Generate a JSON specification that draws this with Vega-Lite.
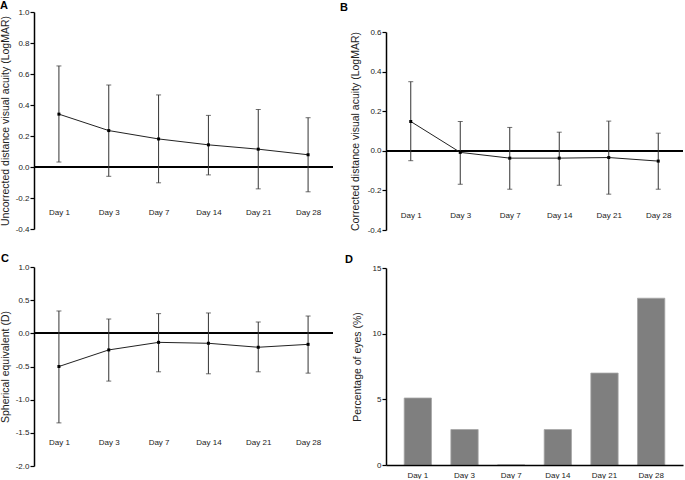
{
  "$schema": "https://vega.github.io/schema/vega-lite/v6.json",
  "padding": {"left": 0, "top": 0, "right": 0, "bottom": 0},
  "config": {
    "font": "Liberation Sans",
    "view": {"stroke": null},
    "axis": {
      "grid": false,
      "labelOverlap": false,
      "domainColor": "#000",
      "domainWidth": 1.5,
      "tickColor": "#000",
      "tickWidth": 1.2,
      "tickSize": 4,
      "labelFont": "Liberation Sans",
      "labelFontSize": 8,
      "labelColor": "#222",
      "labelPadding": 1,
      "titleFont": "Liberation Sans",
      "titleFontSize": 10.5,
      "titleFontWeight": "normal",
      "titleColor": "#222"
    },
    "axisX": {
      "domain": false,
      "ticks": false,
      "tickSize": 0,
      "labelAngle": 0,
      "labelBaseline": "middle",
      "labelPadding": 0,
      "title": null
    },
    "title": {
      "font": "Liberation Sans",
      "fontSize": 11,
      "fontWeight": "bold",
      "color": "#000",
      "anchor": "start",
      "frame": "group",
      "baseline": "alphabetic"
    }
  },
  "datasets": {
    "A": [
      {"day": "Day 1", "mean": 0.341, "lower": 0.032, "upper": 0.652},
      {"day": "Day 3", "mean": 0.235, "lower": -0.06, "upper": 0.529},
      {"day": "Day 7", "mean": 0.181, "lower": -0.102, "upper": 0.465},
      {"day": "Day 14", "mean": 0.143, "lower": -0.051, "upper": 0.333},
      {"day": "Day 21", "mean": 0.115, "lower": -0.141, "upper": 0.371},
      {"day": "Day 28", "mean": 0.079, "lower": -0.16, "upper": 0.318}
    ],
    "B": [
      {"day": "Day 1", "mean": 0.148, "lower": -0.05, "upper": 0.349},
      {"day": "Day 3", "mean": -0.008, "lower": -0.169, "upper": 0.148},
      {"day": "Day 7", "mean": -0.037, "lower": -0.194, "upper": 0.118},
      {"day": "Day 14", "mean": -0.037, "lower": -0.174, "upper": 0.094},
      {"day": "Day 21", "mean": -0.034, "lower": -0.219, "upper": 0.15},
      {"day": "Day 28", "mean": -0.052, "lower": -0.194, "upper": 0.089}
    ],
    "C": [
      {"day": "Day 1", "mean": -0.5, "lower": -1.35, "upper": 0.337},
      {"day": "Day 3", "mean": -0.25, "lower": -0.72, "upper": 0.216},
      {"day": "Day 7", "mean": -0.136, "lower": -0.58, "upper": 0.297},
      {"day": "Day 14", "mean": -0.15, "lower": -0.61, "upper": 0.307},
      {"day": "Day 21", "mean": -0.21, "lower": -0.58, "upper": 0.171},
      {"day": "Day 28", "mean": -0.166, "lower": -0.6, "upper": 0.261}
    ],
    "D": [
      {"day": "Day 1", "percent": 5.1},
      {"day": "Day 3", "percent": 2.7},
      {"day": "Day 7", "percent": 0},
      {"day": "Day 14", "percent": 2.7},
      {"day": "Day 21", "percent": 7.0},
      {"day": "Day 28", "percent": 12.7}
    ]
  },
  "columns": 2,
  "bounds": "flush",
  "spacing": {"row": 37, "column": 53},
  "concat": [
    {
      "width": 299,
      "height": 218,
      "title": {"text": "A", "dx": -34, "offset": -3},
      "data": {"name": "A"},
      "layer": [
        {
          "mark": {"type": "rule", "color": "#000", "strokeWidth": 1.5},
          "encoding": {
            "y": {"datum": 0, "type": "quantitative",
              "scale": {"domain": [-0.4, 1.0], "range": [217, 0], "nice": false, "zero": false},
              "axis": {
                "title": "Uncorrected distance visual acuity (LogMAR)",
                "values": [-0.4, -0.2, 0, 0.2, 0.4, 0.6, 0.8, 1.0],
                "tickCount": 20,
                "labelOverlap": false,
                "labelExpr": "replace(format(datum.value, '.1f'), '\u2212', '-')",
                "titlePadding": 5
              }
            }
          }
        },
        {
          "mark": {"type": "rule", "color": "#333", "strokeWidth": 1},
          "encoding": {
            "x": {"field": "day", "type": "ordinal", "scale": {"type": "point", "domain": ["Day 1", "Day 3", "Day 7", "Day 14", "Day 21", "Day 28"], "padding": 0.5}, "axis": {"offset": -18}},
            "y": {"field": "lower", "type": "quantitative"},
            "y2": {"field": "upper"}
          }
        },
        {
          "mark": {"type": "tick", "color": "#333", "size": 5, "thickness": 1},
          "encoding": {
            "x": {"field": "day", "type": "ordinal"},
            "y": {"field": "lower", "type": "quantitative"}
          }
        },
        {
          "mark": {"type": "tick", "color": "#333", "size": 5, "thickness": 1},
          "encoding": {
            "x": {"field": "day", "type": "ordinal"},
            "y": {"field": "upper", "type": "quantitative"}
          }
        },
        {
          "mark": {"type": "line", "color": "#222", "strokeWidth": 1},
          "encoding": {
            "x": {"field": "day", "type": "ordinal"},
            "y": {"field": "mean", "type": "quantitative"}
          }
        },
        {
          "mark": {"type": "square", "color": "#000", "size": 9, "opacity": 1},
          "encoding": {
            "x": {"field": "day", "type": "ordinal"},
            "y": {"field": "mean", "type": "quantitative"}
          }
        }
      ]
    },
    {
      "width": 297,
      "height": 218,
      "title": {"text": "B", "dx": -46, "offset": -1},
      "data": {"name": "B"},
      "layer": [
        {
          "mark": {"type": "rule", "color": "#000", "strokeWidth": 1.5},
          "encoding": {
            "y": {"datum": 0, "type": "quantitative",
              "scale": {"domain": [-0.4, 0.6], "range": [218, 20], "nice": false, "zero": false},
              "axis": {
                "title": "Corrected distance visual acuity (LogMAR)",
                "values": [-0.4, -0.2, 0, 0.2, 0.4, 0.6],
                "tickCount": 20,
                "labelOverlap": false,
                "labelExpr": "replace(format(datum.value, '.1f'), '\u2212', '-')",
                "titlePadding": 7
              }
            }
          }
        },
        {
          "mark": {"type": "rule", "color": "#333", "strokeWidth": 1},
          "encoding": {
            "x": {"field": "day", "type": "ordinal", "scale": {"type": "point", "domain": ["Day 1", "Day 3", "Day 7", "Day 14", "Day 21", "Day 28"], "padding": 0.5}, "axis": {"offset": -15}},
            "y": {"field": "lower", "type": "quantitative"},
            "y2": {"field": "upper"}
          }
        },
        {
          "mark": {"type": "tick", "color": "#333", "size": 5, "thickness": 1},
          "encoding": {
            "x": {"field": "day", "type": "ordinal"},
            "y": {"field": "lower", "type": "quantitative"}
          }
        },
        {
          "mark": {"type": "tick", "color": "#333", "size": 5, "thickness": 1},
          "encoding": {
            "x": {"field": "day", "type": "ordinal"},
            "y": {"field": "upper", "type": "quantitative"}
          }
        },
        {
          "mark": {"type": "line", "color": "#222", "strokeWidth": 1},
          "encoding": {
            "x": {"field": "day", "type": "ordinal"},
            "y": {"field": "mean", "type": "quantitative"}
          }
        },
        {
          "mark": {"type": "square", "color": "#000", "size": 9, "opacity": 1},
          "encoding": {
            "x": {"field": "day", "type": "ordinal"},
            "y": {"field": "mean", "type": "quantitative"}
          }
        }
      ]
    },
    {
      "width": 299,
      "height": 198,
      "title": {"text": "C", "dx": -33, "offset": -1},
      "data": {"name": "C"},
      "layer": [
        {
          "mark": {"type": "rule", "color": "#000", "strokeWidth": 1.5},
          "encoding": {
            "y": {"datum": 0, "type": "quantitative",
              "scale": {"domain": [-2.0, 1.0], "range": [199, 0], "nice": false, "zero": false},
              "axis": {
                "title": "Spherical equivalent (D)",
                "values": [-2.0, -1.5, -1.0, -0.5, 0, 0.5, 1.0],
                "tickCount": 20,
                "labelOverlap": false,
                "labelExpr": "replace(format(datum.value, '.1f'), '\u2212', '-')",
                "titlePadding": 5
              }
            }
          }
        },
        {
          "mark": {"type": "rule", "color": "#333", "strokeWidth": 1},
          "encoding": {
            "x": {"field": "day", "type": "ordinal", "scale": {"type": "point", "domain": ["Day 1", "Day 3", "Day 7", "Day 14", "Day 21", "Day 28"], "padding": 0.5}, "axis": {"offset": -23}},
            "y": {"field": "lower", "type": "quantitative"},
            "y2": {"field": "upper"}
          }
        },
        {
          "mark": {"type": "tick", "color": "#333", "size": 5, "thickness": 1},
          "encoding": {
            "x": {"field": "day", "type": "ordinal"},
            "y": {"field": "lower", "type": "quantitative"}
          }
        },
        {
          "mark": {"type": "tick", "color": "#333", "size": 5, "thickness": 1},
          "encoding": {
            "x": {"field": "day", "type": "ordinal"},
            "y": {"field": "upper", "type": "quantitative"}
          }
        },
        {
          "mark": {"type": "line", "color": "#222", "strokeWidth": 1},
          "encoding": {
            "x": {"field": "day", "type": "ordinal"},
            "y": {"field": "mean", "type": "quantitative"}
          }
        },
        {
          "mark": {"type": "square", "color": "#000", "size": 9, "opacity": 1},
          "encoding": {
            "x": {"field": "day", "type": "ordinal"},
            "y": {"field": "mean", "type": "quantitative"}
          }
        }
      ]
    },
    {
      "width": 297,
      "height": 198,
      "title": {"text": "D", "dx": -41, "offset": -1},
      "data": {"name": "D"},
      "mark": {"type": "bar", "color": "#7f7f7f", "stroke": "#a6a6a6", "strokeWidth": 0.8},
      "encoding": {
        "x": {
          "field": "day", "type": "ordinal",
          "scale": {"type": "band", "domain": ["Day 1", "Day 3", "Day 7", "Day 14", "Day 21", "Day 28"], "paddingInner": 0.415, "paddingOuter": 0.39},
          "axis": {"domain": true, "labelBaseline": "top", "labelPadding": 6, "zindex": 1}
        },
        "y": {
          "field": "percent", "type": "quantitative",
          "scale": {"domain": [0, 15], "range": [198, 1], "nice": false},
          "axis": {"title": "Percentage of eyes (%)", "values": [0, 5, 10, 15], "tickCount": 20, "titlePadding": 10, "zindex": 1}
        }
      }
    }
  ]
}
